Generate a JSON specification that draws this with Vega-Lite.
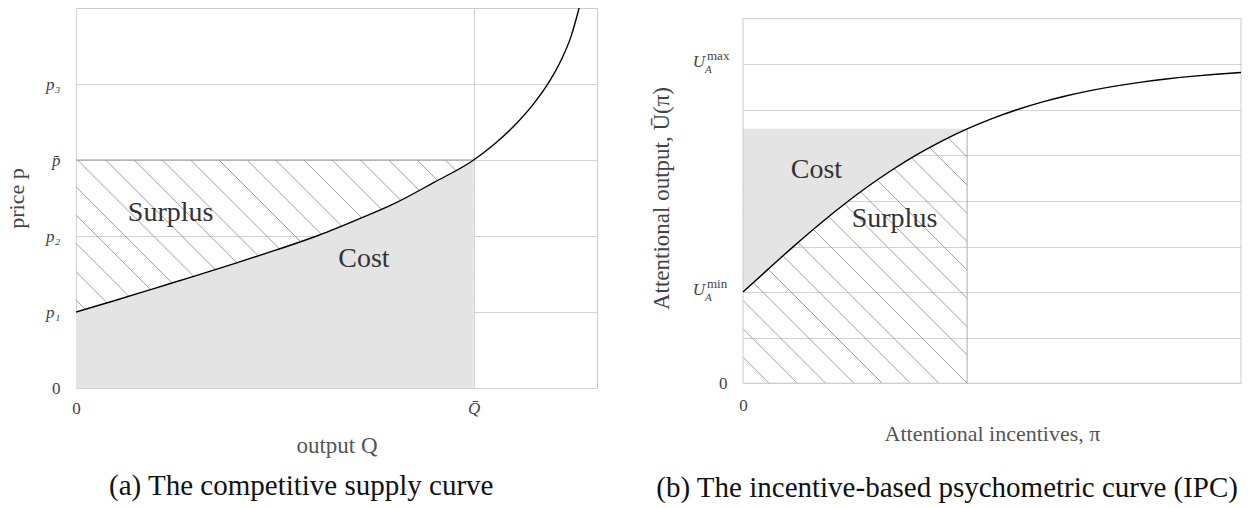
{
  "$schema": "https://vega.github.io/schema/vega-lite/v6.json",
  "background": "white",
  "padding": {"left": 5, "top": 7, "right": 0, "bottom": 0},
  "spacing": 146,
  "bounds": "flush",
  "config": {
    "font": "Liberation Serif",
    "view": {"stroke": "#cccccc"},
    "axis": {
      "domain": false,
      "ticks": false,
      "tickSize": 0,
      "gridColor": "#d3d3d3",
      "gridWidth": 1,
      "labelFont": "Liberation Serif",
      "labelFontSize": 17,
      "labelColor": "#444444",
      "labelFlush": false,
      "labelOverlap": false,
      "titleFont": "Liberation Serif",
      "titleFontWeight": "normal",
      "zindex": 1
    },
    "title": {"font": "Liberation Serif", "fontWeight": "normal", "color": "#111111", "fontSize": 29}
  },
  "datasets": {
    "leftCurve": [
      {"x": 0, "y": 1.0}, {"x": 0.1, "y": 1.155}, {"x": 0.2, "y": 1.315}, {"x": 0.3, "y": 1.475},
      {"x": 0.4, "y": 1.64}, {"x": 0.5, "y": 1.81}, {"x": 0.6, "y": 1.99}, {"x": 0.7, "y": 2.2},
      {"x": 0.8, "y": 2.425}, {"x": 0.9, "y": 2.705}, {"x": 1.0, "y": 3.0}, {"x": 1.05, "y": 3.2},
      {"x": 1.1, "y": 3.44}, {"x": 1.15, "y": 3.735}, {"x": 1.19, "y": 4.03}, {"x": 1.22, "y": 4.315},
      {"x": 1.245, "y": 4.63}, {"x": 1.265, "y": 5.0}
    ],
    "leftCost": [
      {"x": 0, "y": 1.0}, {"x": 0.1, "y": 1.155}, {"x": 0.2, "y": 1.315}, {"x": 0.3, "y": 1.475},
      {"x": 0.4, "y": 1.64}, {"x": 0.5, "y": 1.81}, {"x": 0.6, "y": 1.99}, {"x": 0.7, "y": 2.2},
      {"x": 0.8, "y": 2.425}, {"x": 0.9, "y": 2.705}, {"x": 1.0, "y": 3.0}
    ],
    "leftHatch": [
      {"x": 0.9288, "y": 3, "x2": 1.0, "y2": 2.6276},
      {"x": 0.8577, "y": 3, "x2": 1.0, "y2": 2.2553},
      {"x": 0.7865, "y": 3, "x2": 1.0, "y2": 1.8829},
      {"x": 0.7154, "y": 3, "x2": 1.0, "y2": 1.5105},
      {"x": 0.6442, "y": 3, "x2": 1.0, "y2": 1.1382},
      {"x": 0.5730, "y": 3, "x2": 0.9552, "y2": 1},
      {"x": 0.5019, "y": 3, "x2": 0.8841, "y2": 1},
      {"x": 0.4307, "y": 3, "x2": 0.8129, "y2": 1},
      {"x": 0.3596, "y": 3, "x2": 0.7418, "y2": 1},
      {"x": 0.2884, "y": 3, "x2": 0.6706, "y2": 1},
      {"x": 0.2172, "y": 3, "x2": 0.5994, "y2": 1},
      {"x": 0.1461, "y": 3, "x2": 0.5283, "y2": 1},
      {"x": 0.0749, "y": 3, "x2": 0.4571, "y2": 1},
      {"x": 0.0038, "y": 3, "x2": 0.3860, "y2": 1},
      {"x": 0, "y": 2.6474, "x2": 0.3148, "y2": 1},
      {"x": 0, "y": 2.275, "x2": 0.2437, "y2": 1},
      {"x": 0, "y": 1.9026, "x2": 0.1725, "y2": 1},
      {"x": 0, "y": 1.5303, "x2": 0.1013, "y2": 1},
      {"x": 0, "y": 1.1579, "x2": 0.0302, "y2": 1}
    ],
    "leftEdges": [
      {"x": 0, "y": 3, "x2": 1, "y2": 3}
    ],
    "leftText": [
      {"x": 0.238, "y": 2.2, "label": "Surplus"},
      {"x": 0.724, "y": 1.596, "label": "Cost"}
    ],
    "rightCurve": [
      {"x": 0, "y": 2.0}, {"x": 0.5, "y": 2.498}, {"x": 1, "y": 2.987}, {"x": 1.5, "y": 3.456},
      {"x": 2, "y": 3.9}, {"x": 2.5, "y": 4.311}, {"x": 3, "y": 4.685}, {"x": 3.5, "y": 5.022},
      {"x": 4, "y": 5.32}, {"x": 4.5, "y": 5.582}, {"x": 5, "y": 5.808}, {"x": 5.5, "y": 6.002},
      {"x": 6, "y": 6.168}, {"x": 6.5, "y": 6.309}, {"x": 7, "y": 6.427}, {"x": 7.5, "y": 6.526},
      {"x": 8, "y": 6.608}, {"x": 8.5, "y": 6.677}, {"x": 9, "y": 6.734}, {"x": 9.5, "y": 6.781},
      {"x": 10, "y": 6.82}
    ],
    "rightCost": [
      {"x": 0, "y": 2.0}, {"x": 0.5, "y": 2.498}, {"x": 1, "y": 2.987}, {"x": 1.5, "y": 3.456},
      {"x": 2, "y": 3.9}, {"x": 2.5, "y": 4.311}, {"x": 3, "y": 4.685}, {"x": 3.5, "y": 5.022},
      {"x": 4, "y": 5.32}, {"x": 4.5, "y": 5.582}
    ],
    "rightHatch": [
      {"x": 0, "y": 0.5707, "x2": 0.5221, "y2": 0},
      {"x": 0, "y": 1.1918, "x2": 1.0904, "y2": 0},
      {"x": 0, "y": 1.8129, "x2": 1.6586, "y2": 0},
      {"x": 0, "y": 2.4340, "x2": 2.2269, "y2": 0},
      {"x": 0, "y": 3.0552, "x2": 2.7952, "y2": 0},
      {"x": 0, "y": 3.6763, "x2": 3.3635, "y2": 0},
      {"x": 0, "y": 4.2974, "x2": 3.9317, "y2": 0},
      {"x": 0, "y": 4.9185, "x2": 4.5, "y2": 0},
      {"x": 0, "y": 5.5397, "x2": 4.5, "y2": 0.6211},
      {"x": 0.5301, "y": 5.582, "x2": 4.5, "y2": 1.2423},
      {"x": 1.0984, "y": 5.582, "x2": 4.5, "y2": 1.8634},
      {"x": 1.6667, "y": 5.582, "x2": 4.5, "y2": 2.4845},
      {"x": 2.2349, "y": 5.582, "x2": 4.5, "y2": 3.1056},
      {"x": 2.8032, "y": 5.582, "x2": 4.5, "y2": 3.7268},
      {"x": 3.3715, "y": 5.582, "x2": 4.5, "y2": 4.3479},
      {"x": 3.9398, "y": 5.582, "x2": 4.5, "y2": 4.9691}
    ],
    "rightFrame": [
      {"x": 0, "y": 0, "x2": 0, "y2": 8},
      {"x": 10, "y": 0, "x2": 10, "y2": 8},
      {"x": 0, "y": 0, "x2": 10, "y2": 0},
      {"x": 0, "y": 8, "x2": 10, "y2": 8}
    ],
    "rightEdges": [
      {"x": 4.5, "y": 0, "x2": 4.5, "y2": 5.582}
    ],
    "rightText": [
      {"x": 1.474, "y": 4.51, "label": "Cost"},
      {"x": 3.042, "y": 3.435, "label": "Surplus"}
    ],
    "rightU": [
      {"x": 0, "y": 7, "label": "U"},
      {"x": 0, "y": 2, "label": "U"}
    ],
    "rightSup": [
      {"x": 0, "y": 7, "label": "max"},
      {"x": 0, "y": 2, "label": "min"}
    ],
    "rightSub": [
      {"x": 0, "y": 7, "label": "A"},
      {"x": 0, "y": 2, "label": "A"}
    ]
  },
  "hconcat": [
    {
      "width": 521,
      "height": 380,
      "title": {"text": "(a) The competitive supply curve", "orient": "bottom", "anchor": "middle", "frame": "bounds", "offset": 15},
      "encoding": {
        "x": {
          "field": "x", "type": "quantitative",
          "scale": {"domain": [0, 1.31], "nice": false, "zero": false},
          "axis": {
            "values": [0, 1],
            "labelExpr": "datum.value == 0 ? '0' : 'Q\u0304'",
            "labelFontStyle": {"condition": {"test": "datum.value == 0", "value": "normal"}, "value": "italic"},
            "grid": true,
            "labelPadding": 12,
            "title": "output   Q",
            "titleFontSize": 23,
            "titleColor": "#555555",
            "titlePadding": 18
          }
        },
        "y": {
          "field": "y", "type": "quantitative",
          "scale": {"domain": [0, 5], "nice": false, "zero": false},
          "axis": {
            "values": [0, 1, 2, 3, 4],
            "labelExpr": "['0', 'p\u2081', 'p\u2082', 'p\u0304', 'p\u2083'][datum.value]",
            "labelFontStyle": {"condition": {"test": "datum.value == 0", "value": "normal"}, "value": "italic"},
            "grid": true,
            "labelPadding": 16,
            "title": "price  p",
            "titleFontSize": 22,
            "titleColor": "#444444",
            "titlePadding": 17
          }
        }
      },
      "layer": [
        {
          "data": {"name": "leftHatch"},
          "mark": {"type": "rule", "color": "#a0a0a0", "strokeWidth": 1},
          "encoding": {"x2": {"field": "x2"}, "y2": {"field": "y2"}}
        },
        {
          "data": {"name": "leftCost"},
          "mark": {"type": "area", "color": "#e4e4e4", "opacity": 1, "interpolate": "monotone"},
          "encoding": {"y2": {"datum": 0}}
        },
        {
          "data": {"name": "leftEdges"},
          "mark": {"type": "rule", "color": "#999999", "strokeWidth": 1},
          "encoding": {"x2": {"field": "x2"}, "y2": {"field": "y2"}}
        },
        {
          "data": {"name": "leftCurve"},
          "mark": {"type": "line", "color": "#000000", "strokeWidth": 1.4, "interpolate": "monotone", "clip": true},
          "encoding": {}
        },
        {
          "data": {"name": "leftText"},
          "mark": {"type": "text", "font": "Liberation Serif", "fontSize": 28, "color": "#333333", "align": "center", "baseline": "alphabetic"},
          "encoding": {"text": {"field": "label"}}
        }
      ]
    },
    {
      "width": 498,
      "height": 380,
      "view": {"stroke": null},
      "title": {"text": "(b) The incentive-based psychometric curve (IPC)", "orient": "bottom", "anchor": "middle", "frame": "bounds", "offset": 30},
      "encoding": {
        "x": {
          "field": "x", "type": "quantitative",
          "scale": {"domain": [0, 10], "nice": false, "zero": false},
          "axis": {
            "values": [0],
            "labelExpr": "'0'",
            "grid": false,
            "labelPadding": 9,
            "title": "Attentional incentives, π",
            "titleFontSize": 22,
            "titleColor": "#555555",
            "titlePadding": 10
          }
        },
        "y": {
          "field": "y", "type": "quantitative",
          "scale": {"domain": [-0.1053, 8.2348], "nice": false, "zero": false},
          "axis": {
            "values": [0, 1, 2, 3, 4, 5, 6, 7],
            "labelExpr": "datum.value == 0 ? '0' : ''",
            "grid": true,
            "labelPadding": 16,
            "title": "Attentional output, Ū(π)",
            "titleFontSize": 23,
            "titleColor": "#444444",
            "titlePadding": 45
          }
        }
      },
      "layer": [
        {
          "data": {"name": "rightHatch"},
          "mark": {"type": "rule", "color": "#a0a0a0", "strokeWidth": 1},
          "encoding": {"x2": {"field": "x2"}, "y2": {"field": "y2"}}
        },
        {
          "data": {"name": "rightCost"},
          "mark": {"type": "area", "color": "#e4e4e4", "opacity": 1, "interpolate": "monotone"},
          "encoding": {"y2": {"datum": 5.582}}
        },
        {
          "data": {"name": "rightFrame"},
          "mark": {"type": "rule", "color": "#cccccc", "strokeWidth": 1},
          "encoding": {"x2": {"field": "x2"}, "y2": {"field": "y2"}}
        },
        {
          "data": {"name": "rightEdges"},
          "mark": {"type": "rule", "color": "#aaaaaa", "strokeWidth": 1},
          "encoding": {"x2": {"field": "x2"}, "y2": {"field": "y2"}}
        },
        {
          "data": {"name": "rightCurve"},
          "mark": {"type": "line", "color": "#000000", "strokeWidth": 1.4, "interpolate": "monotone"},
          "encoding": {}
        },
        {
          "data": {"name": "rightText"},
          "mark": {"type": "text", "font": "Liberation Serif", "fontSize": 28, "color": "#333333", "align": "center", "baseline": "alphabetic"},
          "encoding": {"text": {"field": "label"}}
        },
        {
          "data": {"name": "rightU"},
          "mark": {"type": "text", "font": "Liberation Serif", "fontSize": 17, "fontStyle": "italic", "color": "#444444", "align": "right", "baseline": "alphabetic", "dx": -38, "dy": 3},
          "encoding": {"text": {"field": "label"}}
        },
        {
          "data": {"name": "rightSup"},
          "mark": {"type": "text", "font": "Liberation Serif", "fontSize": 13, "color": "#444444", "align": "left", "baseline": "alphabetic", "dx": -36, "dy": -4},
          "encoding": {"text": {"field": "label"}}
        },
        {
          "data": {"name": "rightSub"},
          "mark": {"type": "text", "font": "Liberation Serif", "fontSize": 11, "fontStyle": "italic", "color": "#444444", "align": "left", "baseline": "alphabetic", "dx": -38, "dy": 9},
          "encoding": {"text": {"field": "label"}}
        }
      ]
    }
  ]
}
